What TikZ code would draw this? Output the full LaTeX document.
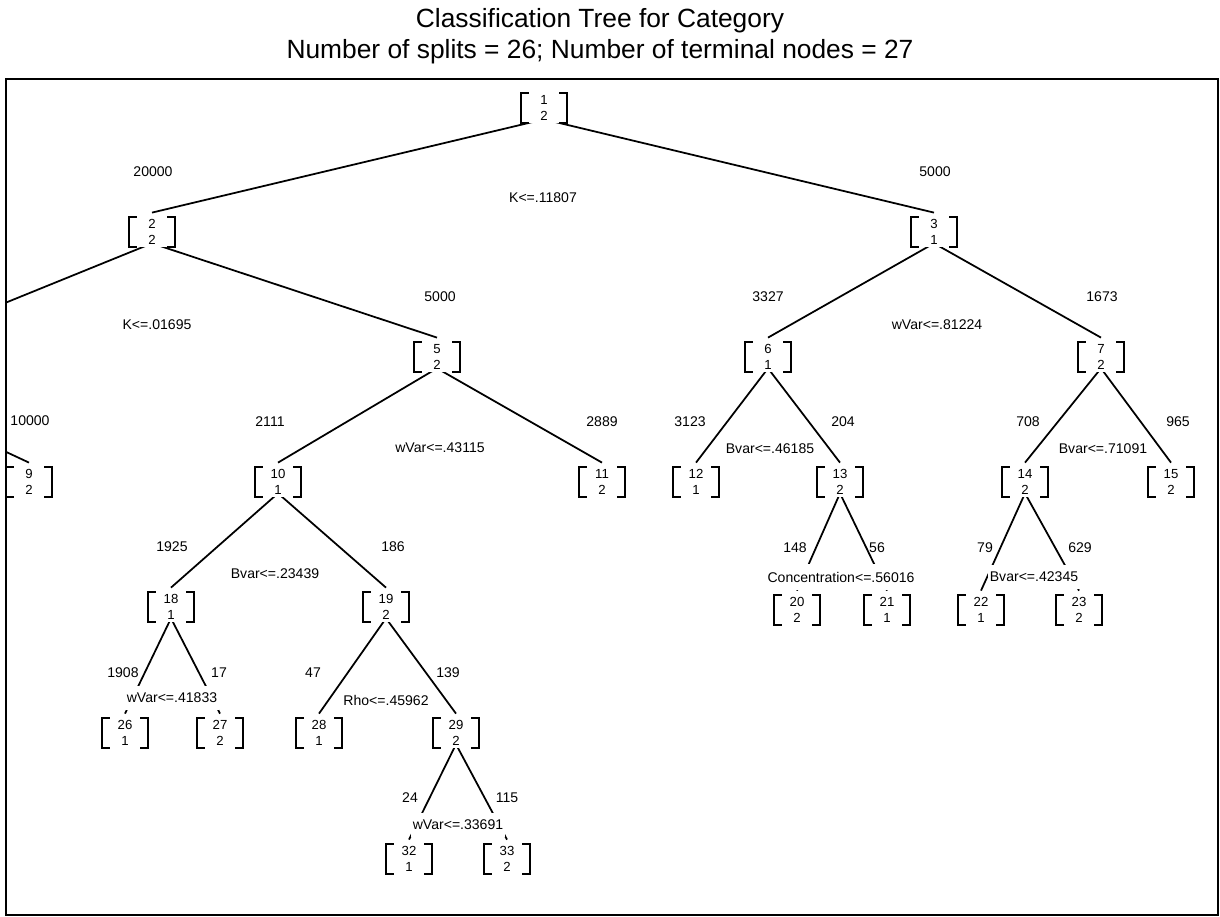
\documentclass[tikz,border=0pt]{standalone}
\usepackage{fontspec}
\setmainfont{Liberation Sans}
\usepackage{tikz}
\usetikzlibrary{positioning}

\pgfdeclarelayer{background}
\pgfsetlayers{background,main}

\tikzset{
  tnode/.style={font=\fontsize{7.5}{9}\selectfont, align=center, inner sep=0pt, fill=white,
    minimum width=0.6cm, minimum height=0.6cm},
  brk/.style={line width=1pt},
  conn/.style={line width=1pt},
  cnt/.style={font=\fontsize{8}{9.6}\selectfont, inner sep=1pt},
  split/.style={font=\fontsize{8}{9.6}\selectfont, fill=white, inner xsep=1pt, inner ysep=0.15cm},
  title/.style={font=\fontsize{15}{18}\selectfont}
}

\begin{document}
\begin{tikzpicture}[x=0.02cm, y=-0.02cm]
				\useasboundingbox (0,0) rectangle (1220,916);

				% Titolo
				\node[title] (t1) at (600,21) {Classification Tree for Category};
				\node[title] (t2) at (600,52) {Number of splits = 26; Number of terminal nodes = 27};

				% Cornice
				\draw[line width=0.8pt] (6,79) rectangle (1218,915);

				\begin{scope}
				\clip (6,79) rectangle (1218,915);

				% Nodi
				\node[tnode] (n1) at (544,108) {1\\2};
				\node[tnode] (n2) at (152,232) {2\\2};
				\node[tnode] (n3) at (934,232) {3\\1};
				\coordinate (n4) at (-165,372);
				\node[tnode] (n5) at (437,357) {5\\2};
				\node[tnode] (n6) at (768,357) {6\\1};
				\node[tnode] (n7) at (1101,357) {7\\2};
				\node[tnode] (n9) at (29,482) {9\\2};
				\node[tnode] (n10) at (278,482) {10\\1};
				\node[tnode] (n11) at (602,482) {11\\2};
				\node[tnode] (n12) at (696,482) {12\\1};
				\node[tnode] (n13) at (840,482) {13\\2};
				\node[tnode] (n14) at (1025,482) {14\\2};
				\node[tnode] (n15) at (1171,482) {15\\2};
				\node[tnode] (n18) at (171,607) {18\\1};
				\node[tnode] (n19) at (386,607) {19\\2};
				\node[tnode] (n20) at (797,610) {20\\2};
				\node[tnode] (n21) at (887,610) {21\\1};
				\node[tnode] (n22) at (981,610) {22\\1};
				\node[tnode] (n23) at (1079,610) {23\\2};
				\node[tnode] (n26) at (125,733) {26\\1};
				\node[tnode] (n27) at (220,733) {27\\2};
				\node[tnode] (n28) at (319,733) {28\\1};
				\node[tnode] (n29) at (456,733) {29\\2};
				\node[tnode] (n32) at (409,859) {32\\1};
				\node[tnode] (n33) at (507,859) {33\\2};

				% Parentesi quadre
				\foreach \n in {1,2,3,5,6,7,9,10,11,12,13,14,15,18,19,20,21,22,23,26,27,28,29,32,33}
					\draw[brk] (n\n.north west) -- ++(-8,0) |- (n\n.south west)
					           (n\n.north east) -- ++(8,0) |- (n\n.south east);

				% Condizioni di split
				\node[split] (s1) at (543,198) {K<=.11807};
				\node[split] (s2) at (157,325) {K<=.01695};
				\node[split] (s3) at (937,325) {wVar<=.81224};
				\node[split] (s5) at (440,448) {wVar<=.43115};
				\node[split] (s6) at (770,449) {Bvar<=.46185};
				\node[split] (s7) at (1103,449) {Bvar<=.71091};
				\node[split] (s10) at (275,574) {Bvar<=.23439};
				\node[split] (s13) at (841,577) {Concentration<=.56016};
				\node[split] (s14) at (1034,577) {Bvar<=.42345};
				\node[split] (s18) at (172,698) {wVar<=.41833};
				\node[split] (s19) at (386,700) {Rho<=.45962};
				\node[split] (s29) at (458,825) {wVar<=.33691};

				% Numerosita
				\node[cnt] (c2) at (153,172) {20000};
				\node[cnt] (c3) at (935,172) {5000};
				\node[cnt] (c9) at (30,421) {10000};
				\node[cnt] (c5) at (440,297) {5000};
				\node[cnt] (c6) at (768,297) {3327};
				\node[cnt] (c7) at (1102,297) {1673};
				\node[cnt] (c10) at (270,422) {2111};
				\node[cnt] (c11) at (602,422) {2889};
				\node[cnt] (c12) at (690,422) {3123};
				\node[cnt] (c13) at (843,422) {204};
				\node[cnt] (c14) at (1028,422) {708};
				\node[cnt] (c15) at (1178,422) {965};
				\node[cnt] (c18) at (172,547) {1925};
				\node[cnt] (c19) at (393,547) {186};
				\node[cnt] (c20) at (795,548) {148};
				\node[cnt] (c21) at (877,548) {56};
				\node[cnt] (c22) at (985,548) {79};
				\node[cnt] (c23) at (1080,548) {629};
				\node[cnt] (c26) at (123,673) {1908};
				\node[cnt] (c27) at (219,673) {17};
				\node[cnt] (c28) at (313,673) {47};
				\node[cnt] (c29) at (448,673) {139};
				\node[cnt] (c32) at (410,798) {24};
				\node[cnt] (c33) at (507,798) {115};
				\end{scope}

				% Rami
				\begin{pgfonlayer}{background}
				\clip (6,79) rectangle (1218,915);
				\draw[conn] ([yshift=2.3pt]n1.south) -- ([yshift=2.3pt]n2.north);
				\draw[conn] ([yshift=2.3pt]n1.south) -- ([yshift=2.3pt]n3.north);
				\draw[conn] ([yshift=2.3pt]n2.south) -- (n4);
				\draw[conn] ([yshift=2.3pt]n2.south) -- ([yshift=2.3pt]n5.north);
				\draw[conn] (n4) -- ([yshift=2.3pt]n9.north);
				\draw[conn] ([yshift=2.3pt]n3.south) -- ([yshift=2.3pt]n6.north);
				\draw[conn] ([yshift=2.3pt]n3.south) -- ([yshift=2.3pt]n7.north);
				\draw[conn] ([yshift=2.3pt]n5.south) -- ([yshift=2.3pt]n10.north);
				\draw[conn] ([yshift=2.3pt]n5.south) -- ([yshift=2.3pt]n11.north);
				\draw[conn] ([yshift=2.3pt]n6.south) -- ([yshift=2.3pt]n12.north);
				\draw[conn] ([yshift=2.3pt]n6.south) -- ([yshift=2.3pt]n13.north);
				\draw[conn] ([yshift=2.3pt]n7.south) -- ([yshift=2.3pt]n14.north);
				\draw[conn] ([yshift=2.3pt]n7.south) -- ([yshift=2.3pt]n15.north);
				\draw[conn] ([yshift=2.3pt]n10.south) -- ([yshift=2.3pt]n18.north);
				\draw[conn] ([yshift=2.3pt]n10.south) -- ([yshift=2.3pt]n19.north);
				\draw[conn] ([yshift=2.3pt]n13.south) -- ([yshift=2.3pt]n20.north);
				\draw[conn] ([yshift=2.3pt]n13.south) -- ([yshift=2.3pt]n21.north);
				\draw[conn] ([yshift=2.3pt]n14.south) -- ([yshift=2.3pt]n22.north);
				\draw[conn] ([yshift=2.3pt]n14.south) -- ([yshift=2.3pt]n23.north);
				\draw[conn] ([yshift=2.3pt]n18.south) -- ([yshift=2.3pt]n26.north);
				\draw[conn] ([yshift=2.3pt]n18.south) -- ([yshift=2.3pt]n27.north);
				\draw[conn] ([yshift=2.3pt]n19.south) -- ([yshift=2.3pt]n28.north);
				\draw[conn] ([yshift=2.3pt]n19.south) -- ([yshift=2.3pt]n29.north);
				\draw[conn] ([yshift=2.3pt]n29.south) -- ([yshift=2.3pt]n32.north);
				\draw[conn] ([yshift=2.3pt]n29.south) -- ([yshift=2.3pt]n33.north);
				\end{pgfonlayer}
			\end{tikzpicture}
\end{document}
